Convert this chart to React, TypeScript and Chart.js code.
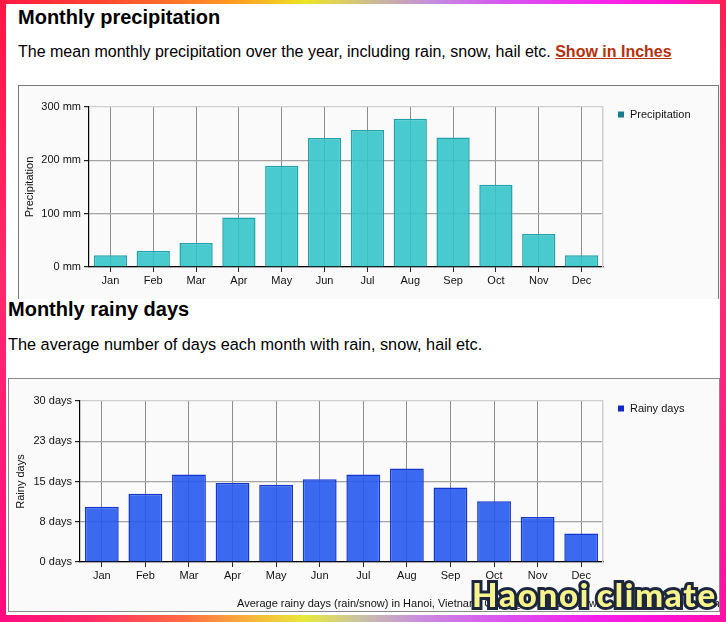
import React, { useEffect, useRef } from 'react';
import { Chart, registerables } from 'chart.js';

Chart.register(...registerables);

// ---------- data ----------
const months = ['Jan', 'Feb', 'Mar', 'Apr', 'May', 'Jun', 'Jul', 'Aug', 'Sep', 'Oct', 'Nov', 'Dec'];
const precipitationMm = [22, 30, 45, 93, 190, 242, 257, 278, 243, 154, 62, 22];
const rainyDays = [10.3, 12.7, 16.3, 14.7, 14.4, 15.4, 16.3, 17.4, 13.9, 11.3, 8.4, 5.3];
const precipAxis = { min: 0, max: 300, step: 100, unit: 'mm' };
const daysAxis = { min: 0, max: 30, step: 7.5, unit: 'days' };

const FONT = '"Liberation Sans", Arial, sans-serif';

const sideLegend = {
  id: 'sideLegend',
  afterDraw(chart: any, _args: any, opts: any) {
    const { ctx, chartArea } = chart;
    const ds = chart.data.datasets[0];
    ctx.save();
    const cx = chartArea.right + 18;
    const cy = chartArea.top + 7.5;
    ctx.fillStyle = opts.color;
    ctx.fillRect(cx - 3, cy - 3, 6, 6);
    ctx.fillStyle = '#111';
    ctx.font = '11px ' + FONT;
    ctx.textBaseline = 'middle';
    ctx.fillText(ds.label, chartArea.right + 27, cy);
    ctx.restore();
  },
};

type BarProps = {
  width: number;
  height: number;
  values: number[];
  label: string;
  axis: { min: number; max: number; step: number; unit: string };
  fill: string;
  border: string;
  legendColor: string;
  plotLeft: number;
  plotRight: number;
  plotTop: number;
  plotBottom: number;
  titleOffset: number;
};

function BarChart(p: BarProps) {
  const ref = useRef<HTMLCanvasElement | null>(null);
  useEffect(() => {
    if (!ref.current) return;
    const chart = new Chart(ref.current, {
      type: 'bar',
      data: {
        labels: months,
        datasets: [
          {
            label: p.label,
            data: p.values,
            backgroundColor: p.fill,
            borderColor: p.border,
            borderWidth: 1.5,
            categoryPercentage: 0.8,
            barPercentage: 0.97,
          },
        ],
      },
      plugins: [sideLegend],
      options: {
        responsive: false,
        animation: false,
        devicePixelRatio: 1,
        layout: {
          padding: { top: p.plotTop, right: p.width - p.plotRight, left: 0, bottom: 0 },
        },
        plugins: {
          legend: { display: false },
          tooltip: { enabled: false },
          sideLegend: { color: p.legendColor },
        } as any,
        scales: {
          x: {
            offset: true,
            grid: {
              offset: false,
              color: '#8c8c8c',
              lineWidth: 1,
              tickLength: 5,
              tickColor: '#222',
            },
            border: { color: '#000', width: 1.2 },
            ticks: { color: '#111', font: { family: FONT, size: 11 }, padding: 2 },
            afterFit: (s: any) => {
              s.height = p.height - p.plotBottom;
            },
          },
          y: {
            min: p.axis.min,
            max: p.axis.max,
            ticks: {
              stepSize: p.axis.step,
              color: '#111',
              padding: 3,
              font: { family: FONT, size: 11 },
              callback: (v: any) => Math.round(Number(v)) + ' ' + p.axis.unit,
            },
            grid: {
              color: (c: any) => (c.tick && c.tick.value === p.axis.max ? '#cfcfcf' : '#a3a3a3'),
              lineWidth: 1.2,
              tickLength: 5,
              tickColor: '#222',
            },
            border: { color: '#000', width: 1.2 },
            title: {
              display: true,
              text: p.label,
              color: '#111',
              font: { family: FONT, size: 11 },
              padding: { top: p.titleOffset, bottom: 0 },
            },
            afterFit: (s: any) => {
              s.width = p.plotLeft;
            },
          },
          yRight: {
            position: 'right',
            min: p.axis.min,
            max: p.axis.max,
            ticks: { display: false },
            grid: { display: false },
            border: { color: '#d0d0d0', width: 1.5 },
            afterFit: (s: any) => {
              s.width = 0;
            },
          },
        } as any,
      },
    });
    return () => chart.destroy();
  }, []);
  return <canvas ref={ref} width={p.width} height={p.height} style={{ display: 'block', width: p.width, height: p.height }} />;
}

const abs = (l: number, t: number, extra: React.CSSProperties = {}): React.CSSProperties => ({
  position: 'absolute',
  left: l,
  top: t,
  ...extra,
});

export default function App() {
  const heading: React.CSSProperties = {
    fontFamily: FONT,
    fontWeight: 700,
    fontSize: 20,
    lineHeight: '20px',
    color: '#000',
    whiteSpace: 'nowrap',
  };
  const body: React.CSSProperties = {
    fontFamily: FONT,
    fontSize: 16,
    lineHeight: '16px',
    color: '#000',
    whiteSpace: 'nowrap',
  };
  return (
    <div style={{ position: 'absolute', left: 0, top: 0, width: 726, height: 622, background: '#fff', overflow: 'hidden' }}>
      {/* upper screenshot */}
      <div style={abs(18, 7, heading)}>Monthly precipitation</div>
      <div style={abs(18, 44, body)}>
        The mean monthly precipitation over the year, including rain, snow, hail etc.{' '}
        <span style={{ color: '#b8300c', fontWeight: 700, textDecoration: 'underline' }}>Show in Inches</span>
      </div>
      <div
        style={abs(18, 85, {
          width: 699,
          height: 213,
          borderLeft: '1px solid #7a7a7a',
          borderRight: '1px solid #7a7a7a',
          borderTop: '1px solid #7a7a7a',
          background: '#fafafa',
        })}
      >
        <BarChart
          width={699}
          height={212}
          values={precipitationMm}
          label="Precipitation"
          axis={precipAxis}
          fill="rgba(52,196,202,0.9)"
          border="#1fa3aa"
          legendColor="#167f8b"
          plotLeft={70}
          plotRight={584}
          plotTop={21}
          plotBottom={181}
          titleOffset={4}
        />
      </div>

      {/* lower screenshot */}
      <div style={abs(8, 299, heading)}>Monthly rainy days</div>
      <div style={abs(8, 336, { ...body, fontSize: 16.3 })}>The average number of days each month with rain, snow, hail etc.</div>
      <div
        style={abs(8, 378, {
          width: 710,
          height: 232,
          border: '1px solid #8a8a8a',
          background: '#fafafa',
          overflow: 'hidden',
        })}
      >
        <BarChart
          width={710}
          height={232}
          values={rainyDays}
          label="Rainy days"
          axis={daysAxis}
          fill="rgba(38,90,238,0.9)"
          border="#1436cf"
          legendColor="#1228c8"
          plotLeft={71}
          plotRight={594}
          plotTop={22}
          plotBottom={183}
          titleOffset={5}
        />
        <div style={abs(228, 219, { fontFamily: FONT, fontSize: 11, lineHeight: '11px', color: '#111', whiteSpace: 'nowrap' })}>
          Average rainy days (rain/snow) in Hanoi, Vietnam&nbsp;&nbsp;Copyright © 2024 www.weather-and-climate.com
        </div>
      </div>

      {/* overlay title */}
      <div
        style={abs(472, 578, {
          fontFamily: 'Lato, "Noto Sans", sans-serif',
          fontWeight: 900,
          fontSize: 33,
          lineHeight: '33px',
          color: '#f7f38c',
          WebkitTextStroke: '6px #1d2740',
          paintOrder: 'stroke fill',
          letterSpacing: 1.8,
          wordSpacing: -3,
          whiteSpace: 'nowrap',
          textShadow: '0 0 2px rgba(0,0,0,0.35)',
        } as React.CSSProperties)}
      >
        Haonoi climate
      </div>

      {/* gradient frame */}
      <div
        style={abs(0, 0, {
          width: 726,
          height: 4,
          background:
            'linear-gradient(90deg,#ff1744 0%,#ff4a30 15%,#ff9a22 32%,#ece424 42%,#cbb89a 52%,#c58ae0 60%,#d852f2 70%,#f428ec 82%,#ff14d0 92%,#ff2060 100%)',
        })}
      />
      <div
        style={abs(0, 615, {
          width: 726,
          height: 7,
          background:
            'linear-gradient(90deg,#ff0a80 0%,#ff2a68 12%,#ff6a44 25%,#f6b83a 35%,#e8e83c 42%,#c8c0a8 50%,#c98ce0 58%,#dc50f0 70%,#f420ea 82%,#ff10d0 92%,#ff10a8 100%)',
        })}
      />
      <div style={abs(0, 0, { width: 6, height: 622, background: 'linear-gradient(180deg,#ff1744 0%,#ff2a6c 45%,#ff1a78 75%,#ff0a80 100%)' })} />
      <div style={abs(720, 0, { width: 6, height: 622, background: 'linear-gradient(180deg,#ff2050 0%,#ff2a70 45%,#ff1a88 75%,#ff10a8 100%)' })} />
    </div>
  );
}
